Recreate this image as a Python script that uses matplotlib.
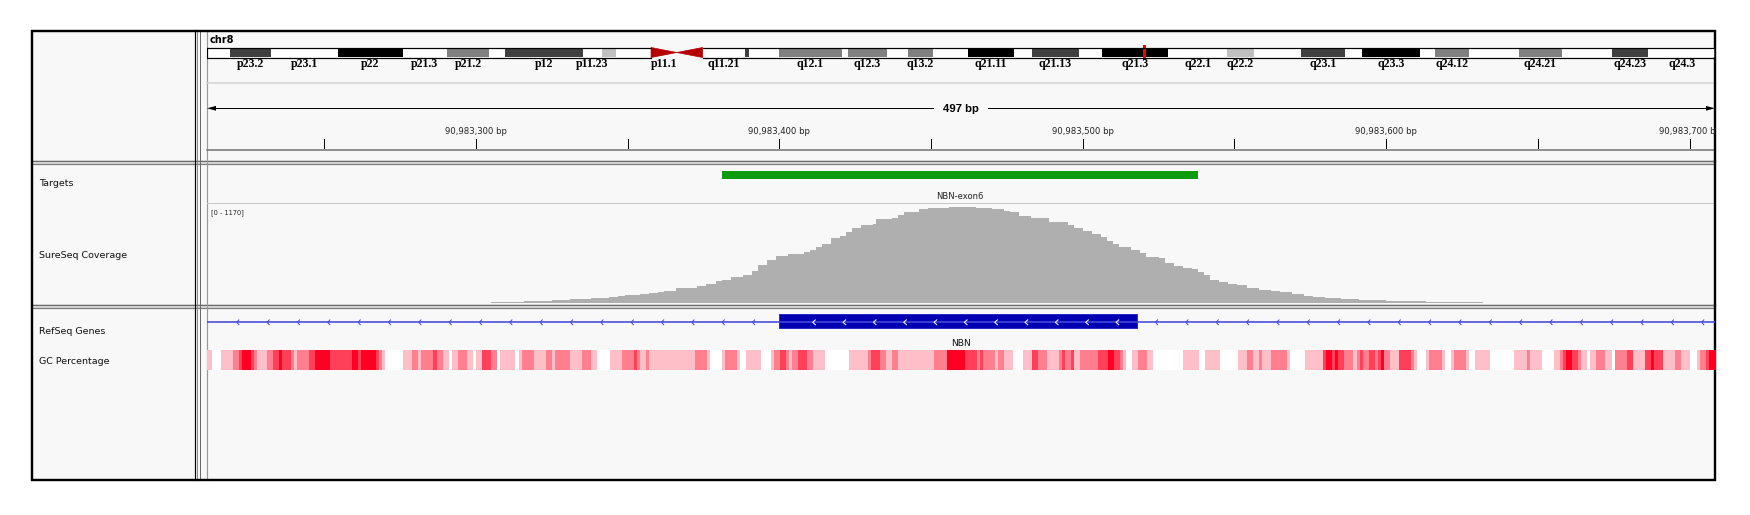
import numpy as np
import matplotlib
matplotlib.use("Agg")
import matplotlib.pyplot as plt
from matplotlib.patches import Rectangle, Polygon
from matplotlib.colors import ListedColormap

plt.rcParams['font.family'] = ['DejaVu Sans']

# ---------------- data ----------------
chrom = "chr8"
chrom_len_mb = 146.364
view_start = 90983211.4
view_end = 90983708.4

band_names = ["p23.3", "p23.2", "p23.1", "p22", "p21.3", "p21.2", "p21.1", "p12", "p11.23", "p11.22", "p11.21", "p11.1",
              "q11.1", "q11.21", "q11.22", "q11.23", "q12.1", "q12.2", "q12.3", "q13.1", "q13.2", "q13.3",
              "q21.11", "q21.12", "q21.13", "q21.2", "q21.3", "q22.1", "q22.2", "q22.3", "q23.1", "q23.2", "q23.3",
              "q24.11", "q24.12", "q24.13", "q24.21", "q24.22", "q24.23", "q24.3"]
band_start = [0.0, 2.2, 6.2, 12.7, 19.0, 23.3, 27.4, 28.9, 36.5, 38.3, 39.7, 43.1,
              45.6, 48.1, 52.2, 52.6, 55.5, 61.6, 62.2, 66.0, 68.0, 70.5,
              73.9, 78.3, 80.1, 84.6, 86.9, 93.3, 99.0, 101.6, 106.2, 110.5, 112.1,
              117.7, 119.2, 122.5, 127.3, 131.5, 136.4, 139.9]
band_stain = ["gneg", "gpos75", "gneg", "gpos100", "gneg", "gpos50", "gneg", "gpos75", "gneg", "gpos25", "gneg", "acen",
              "acen", "gneg", "gpos75", "gneg", "gpos50", "gneg", "gpos50", "gneg", "gpos50", "gneg",
              "gpos100", "gneg", "gpos75", "gneg", "gpos100", "gneg", "gpos25", "gneg", "gpos75", "gneg", "gpos100",
              "gneg", "gpos50", "gneg", "gpos50", "gneg", "gpos75", "gneg"]
shown_bands = ["p23.2", "p23.1", "p22", "p21.3", "p21.2", "p12", "p11.23", "p11.1", "q11.21", "q12.1", "q12.3",
               "q13.2", "q21.11", "q21.13", "q21.3", "q22.1", "q22.2", "q23.1", "q23.3", "q24.12", "q24.21",
               "q24.23", "q24.3"]

track_names = ["Targets", "SureSeq Coverage", "RefSeq Genes", "GC Percentage"]

target_name = "NBN-exon6"
target_start = 90983381
target_end = 90983538

# coverage: step starts (offset from 90,983,000) and depth
pos_base = 90983000
cov_max = 1170
cov_pos = [305, 316, 325, 331, 338, 344, 347, 349, 354, 357, 360, 362, 366, 373, 376, 379, 381, 384, 388, 391,
           393, 396, 399, 403, 408, 410, 412, 414, 417, 420, 422, 424, 427, 431, 432, 437, 439, 441, 446, 449,
           456, 465, 470, 474, 476, 479, 483, 489, 493, 495, 497, 500, 503, 506, 508, 510, 512, 516, 519, 521,
           525, 527, 530, 533, 536, 538, 540, 542, 545, 548, 551, 554, 558, 562, 565, 569, 573, 576, 580, 585,
           591, 600, 613, 632]
cov_val = [12, 23, 35, 47, 58, 70, 86, 98, 109, 117, 129, 148, 176, 203, 222, 257, 273, 308, 332, 382,
           449, 507, 554, 577, 605, 624, 655, 690, 761, 788, 839, 885, 917, 932, 983, 1003, 1030, 1073, 1104, 1115,
           1127, 1115, 1100, 1084, 1065, 1026, 995, 956, 948, 917, 885, 846, 815, 780, 733, 698, 655, 620, 585, 546,
           527, 476, 441, 417, 398, 371, 332, 273, 254, 230, 215, 176, 156, 144, 129, 105, 90, 78, 66, 55,
           43, 31, 16, 0]

gene_name = "NBN"
exon_start = 90983400
exon_end = 90983518

# GC percentage: run starts (offset from 90,983,000) and colour level 0..4
gc_pos = [211, 213, 216, 220, 222, 223, 226, 227, 228, 231, 233, 235, 236, 239, 240, 241, 245, 247, 252, 259,
          261, 262, 267, 268, 269, 270, 276, 279, 281, 282, 286, 287, 289, 291, 292, 294, 297, 299, 300, 302,
          305, 307, 308, 313, 314, 315, 319, 323, 325, 326, 331, 335, 338, 340, 344, 348, 352, 353, 354, 356,
          357, 372, 376, 377, 381, 382, 386, 387, 389, 394, 397, 398, 400, 402, 403, 404, 406, 409, 411, 415,
          423, 429, 430, 433, 435, 437, 439, 451, 455, 461, 465, 466, 467, 471, 472, 474, 477, 480, 483, 485,
          488, 492, 493, 494, 496, 497, 499, 505, 508, 510, 512, 513, 514, 516, 518, 521, 523, 533, 538, 540,
          545, 551, 554, 556, 558, 559, 562, 567, 568, 573, 579, 580, 582, 583, 584, 586, 589, 590, 591, 592,
          594, 596, 597, 598, 599, 601, 604, 608, 609, 610, 613, 614, 618, 619, 621, 622, 626, 627, 629, 634,
          642, 646, 647, 651, 655, 657, 658, 659, 661, 663, 664, 666, 667, 669, 672, 674, 675, 679, 681, 685,
          687, 688, 691, 695, 697, 700, 702, 703, 705, 706]
gc_level = [1, 0, 1, 2, 3, 4, 3, 2, 1, 2, 3, 4, 3, 2, 1, 2, 3, 4, 3, 4,
            3, 4, 3, 2, 1, 0, 1, 2, 1, 2, 3, 2, 1, 0, 1, 2, 1, 0, 1, 3,
            2, 0, 1, 0, 1, 2, 1, 2, 1, 2, 1, 2, 1, 0, 1, 2, 3, 2, 1, 2,
            1, 2, 1, 0, 1, 2, 1, 0, 1, 0, 1, 2, 3, 2, 1, 2, 3, 2, 1, 0,
            1, 2, 3, 2, 1, 2, 1, 2, 4, 3, 2, 3, 2, 1, 2, 1, 0, 1, 3, 2,
            1, 2, 3, 2, 3, 1, 2, 3, 4, 3, 2, 1, 0, 1, 2, 1, 0, 1, 0, 1,
            0, 1, 2, 1, 2, 1, 2, 1, 0, 1, 3, 4, 3, 4, 3, 2, 1, 2, 3, 2,
            3, 2, 3, 4, 2, 1, 3, 2, 1, 0, 1, 2, 1, 0, 1, 2, 1, 0, 1, 0,
            1, 2, 1, 0, 1, 2, 3, 4, 3, 2, 1, 0, 1, 2, 1, 0, 2, 3, 1, 3,
            4, 3, 1, 2, 1, 0, 1, 2, 3, 4]
gc_end = 709

# ---------------- styles ----------------
W, H = 1750, 515
PT = 0.72  # points per pixel at dpi 100
X0, X1 = 207, 1715
stain_color = {"gneg": "#ffffff", "gpos25": "#c0c0c0", "gpos50": "#808080",
               "gpos75": "#404040", "gpos100": "#000000"}
gc_colors = ["#ffffff", "#ffbfc8", "#ff7f8f", "#ff4058", "#ff0024"]
panel_bg = "#f8f8f8"

fig = plt.figure(figsize=(W / 100, H / 100), dpi=100)
fig.patch.set_facecolor("white")


def px_axes(x0, y0, x1, y1):
    ax = fig.add_axes([x0 / W, 1 - y1 / H, (x1 - x0) / W, (y1 - y0) / H])
    ax.set_axis_off()
    return ax


# ---- frame, panels, separators ----
bg = px_axes(0, 0, W, H)
bg.set_xlim(0, W)
bg.set_ylim(H, 0)
bg.add_patch(Rectangle((32, 30), X1 - 32, 450, fc=panel_bg, ec="none"))
for ys in (160, 304):
    bg.add_patch(Rectangle((33, ys), X1 - 33, 4, fc="#dcdcdc", ec="none"))
    bg.plot([33, X1], [ys + 0.5, ys + 0.5], color="#6e6e6e", lw=1.2 * PT)
    bg.plot([33, X1], [ys + 3.5, ys + 3.5], color="#7a7a7a", lw=1.2 * PT)
bg.plot([194.5, 194.5], [30, 480], color="black", lw=1.2 * PT)
bg.plot([197, 197], [30, 480], color="#8a8a8a", lw=1 * PT)
bg.plot([200, 200], [30, 480], color="#6a6a6a", lw=1 * PT)
bg.plot([206.5, 206.5], [31, 480], color="#9a9a9a", lw=1.2 * PT)
bg.plot([X0, X1], [83, 83], color="#d2d2d2", lw=1.5 * PT)
bg.plot([X0, X1], [149.5, 149.5], color="#707070", lw=1.5 * PT)
bg.plot([X0, X1], [203.3, 203.3], color="#c8c8cc", lw=1 * PT)
bg.add_patch(Rectangle((32, 30.5), X1 - 32, 449.5, fc="none", ec="black", lw=2.4 * PT, zorder=20))

label_base = [186, 257.5, 333.5, 363.5]
for name, yb in zip(track_names, label_base):
    bg.text(39, yb, name, fontsize=6.8, va="baseline", ha="left", color="#111111")
bg.text(210, 43.3, chrom, fontsize=7, fontweight="bold", va="baseline", ha="left")
bg.text(211, 214, "[0 - %d]" % cov_max, fontsize=4.8, va="baseline", ha="left", color="#222222")

# ---- ideogram ----
ideo = px_axes(X0, 40, X1, 70)
ideo.set_xlim(0, chrom_len_mb)
ideo.set_ylim(70, 40)
y_top, y_bot = 47.5, 57.5
band_end = band_start[1:] + [chrom_len_mb]
cen = [i for i, s in enumerate(band_stain) if s == "acen"]
for s, e, st in zip(band_start, band_end, band_stain):
    if st != "acen":
        ideo.add_patch(Rectangle((s, y_top), e - s, y_bot - y_top, fc=stain_color[st], ec="none"))
cen_s, cen_mid, cen_e = band_start[cen[0]], band_start[cen[1]], band_end[cen[1]]
ideo.add_patch(Polygon([(cen_s, y_top), (cen_mid, (y_top + y_bot) / 2), (cen_s, y_bot)], fc="#b40000", ec="#b40000", lw=0.5))
ideo.add_patch(Polygon([(cen_e, y_top), (cen_mid, (y_top + y_bot) / 2), (cen_e, y_bot)], fc="#b40000", ec="#b40000", lw=0.5))
for a, b in ((0, cen_s), (cen_e, chrom_len_mb)):
    ideo.plot([a, b], [y_top, y_top], color="black", lw=1.2 * PT)
    ideo.plot([a, b], [y_bot, y_bot], color="black", lw=1.2 * PT)
ideo.plot([0, 0], [y_top, y_bot], color="black", lw=1.2 * PT)
ideo.plot([chrom_len_mb, chrom_len_mb], [y_top, y_bot], color="black", lw=1.5 * PT, clip_on=False)
for n, s, e in zip(band_names, band_start, band_end):
    if n in shown_bands:
        ideo.text((s + e) / 2, 66.7, n, fontsize=8.6, fontweight="bold", family="Liberation Serif",
                  ha="center", va="baseline")
view_mid_mb = (view_start + view_end) / 2 / 1e6
mk_w = 3 * chrom_len_mb / (X1 - X0)
ideo.add_patch(Rectangle((view_mid_mb - mk_w / 2, 45), mk_w, 15, fc="red", ec="none"))

# ---- ruler ----
ruler = px_axes(X0, 83, X1, 149)
ruler.set_xlim(view_start, view_end)
ruler.set_ylim(149, 83)
y_arrow = 108.3
head = 9 * (view_end - view_start) / (X1 - X0)
ruler.plot([view_start + head, view_end - head], [y_arrow, y_arrow], color="black", lw=1 * PT)
ruler.add_patch(Polygon([(view_start, y_arrow), (view_start + head, y_arrow - 2.4), (view_start + head, y_arrow + 2.4)],
                        fc="black", ec="none"))
ruler.add_patch(Polygon([(view_end, y_arrow), (view_end - head, y_arrow - 2.4), (view_end - head, y_arrow + 2.4)],
                        fc="black", ec="none"))
span_bp = int(round(view_end - view_start))
ruler.text((view_start + view_end) / 2, 112.5, "%d bp" % span_bp, fontsize=8.2, fontweight="bold",
           family="Liberation Sans", ha="center", va="baseline",
           bbox=dict(boxstyle="square,pad=0.8", fc=panel_bg, ec="none"))
first_tick = int(np.ceil(view_start / 50.0)) * 50
for t in range(first_tick, int(view_end) + 1, 50):
    ruler.plot([t, t], [139.3, 148.3], color="black", lw=1 * PT)
    if t % 100 == 0:
        ruler.text(t, 134.5, "{:,} bp".format(t), fontsize=6.1, ha="center", va="baseline",
                   color="#222222", clip_on=True)

# ---- targets ----
tg = px_axes(X0, 164, X1, 203)
tg.set_xlim(view_start, view_end)
tg.set_ylim(203, 164)
tg.add_patch(Rectangle((target_start, 170.5), target_end - target_start, 8.5, fc="#0e9a0e", ec="none"))
tg.text((target_start + target_end) / 2, 199, target_name, fontsize=6, ha="center", va="baseline", color="#222222")

# ---- coverage ----
cv = px_axes(X0, 203.3, X1, 303.3)
cv.set_xlim(view_start, view_end)
cv.set_ylim(0, cov_max)
cx = np.array(cov_pos + [cov_pos[-1] + 1]) + pos_base
cy = np.array(cov_val + [0])
cv.fill_between(cx, cy, step="post", color="#afafaf", lw=0)

# ---- genes + GC ----
gn = px_axes(X0, 308, X1, 480)
gn.set_xlim(view_start, view_end)
gn.set_ylim(480, 308)
y_line = 322.3
gn.plot([view_start, view_end], [y_line, y_line], color="#4848dc", lw=1.6 * PT)
for p in list(np.arange(221.2, exon_start - pos_base, 10)) + list(np.arange(524, view_end - pos_base, 10)):
    gn.plot([pos_base + p + 0.7, pos_base + p, pos_base + p + 0.7], [y_line - 2.4, y_line, y_line + 2.4],
            color="#4848dc", lw=1 * PT)
gn.add_patch(Rectangle((exon_start, 314.3), exon_end - exon_start, 14, fc="#0000b2", ec="#2a2ac8", lw=1 * PT))
for p in np.arange(411, exon_end - pos_base - 4, 10):
    gn.plot([pos_base + p + 0.9, pos_base + p, pos_base + p + 0.9], [y_line - 2.4, y_line, y_line + 2.4],
            color="white", lw=1 * PT)
gn.text((view_start + view_end) / 2, 346.5, gene_name, fontsize=6.6, ha="center", va="baseline", color="#111111")

# GC runs expanded to one cell per base, drawn as a single-row heat strip
gc_len = np.diff(np.array(gc_pos + [gc_end]))
gc_row = np.repeat(np.array(gc_level), gc_len)[np.newaxis, :]
gn.imshow(gc_row, cmap=ListedColormap(gc_colors), vmin=-0.5, vmax=len(gc_colors) - 0.5,
          extent=(pos_base + gc_pos[0], pos_base + gc_end, 370, 350), aspect="auto",
          interpolation="nearest")
gn.set_xlim(view_start, view_end)
gn.set_ylim(480, 308)

fig.savefig("out.png", dpi=100, facecolor="white")
